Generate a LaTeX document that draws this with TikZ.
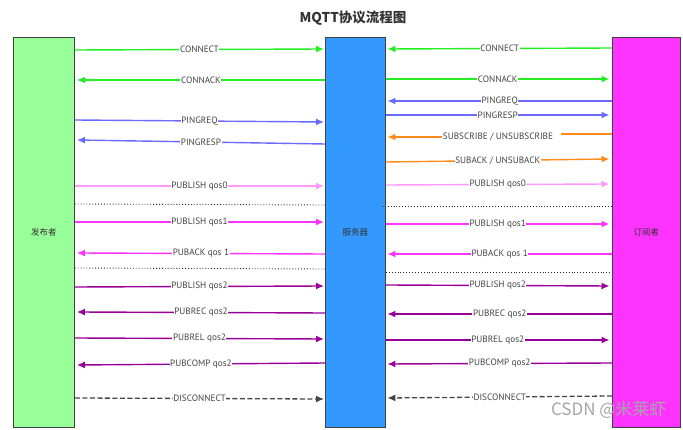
\documentclass[tikz,border=0pt]{standalone}
\usepackage{fontspec}
\setmainfont{PT Sans}
\newfontfamily\cjk{Noto Sans CJK SC}
\usetikzlibrary{arrows.meta,calc}
\definecolor{cgreen}{HTML}{22EE22}
\definecolor{cblue}{HTML}{6A6AFF}
\definecolor{corange}{HTML}{FF8C1A}
\definecolor{clpink}{HTML}{FF99FF}
\definecolor{cmag}{HTML}{FF33FF}
\definecolor{cpurp}{HTML}{990099}
\definecolor{cdash}{HTML}{444444}
\definecolor{boxgreen}{HTML}{99FF99}
\definecolor{boxblue}{HTML}{3399FF}
\definecolor{boxmag}{HTML}{FF33FF}
\definecolor{txt}{HTML}{444444}
\tikzset{
  actor/.style={draw=black!75, line width=0.9pt, anchor=north west, inner sep=0pt,
    font=\cjk\fontsize{8.5}{9}\selectfont, text=black!80},
  lbl/.style={fill=white, inner sep=0.6pt, text=txt, font=\fontsize{9.2}{10}\selectfont},
  msg/.style={line width=1.4pt, -{Latex[length=8pt,width=7pt]}},
  sep/.style={line width=0.9pt, dotted, black!85},
}
\newcommand\msgarrow[6]{\draw[msg,#1] (#2 |- 0,#3) -- node[lbl]{#6} (#4 |- 0,#5);}
\begin{document}
\begin{tikzpicture}[x=1pt,y=-1pt]
\useasboundingbox (0,0) rectangle (683,430);
\node[font=\cjk\bfseries\fontsize{13.5}{15}\selectfont, text=black!80] (title) at (353,18) {MQTT协议流程图};
\node[actor, fill=boxgreen, minimum width=61pt, minimum height=390pt] (pub) at (13,37) {发布者};
\node[actor, fill=boxblue, minimum width=60pt, minimum height=390pt] (srv) at (325,37) {服务器};
\node[actor, fill=boxmag, minimum width=68pt, minimum height=390pt] (sub) at (612,37) {订阅者};
% shifted anchors for arrow tips
\coordinate (pubR) at ($(pub.east)+(2,0)$);
\coordinate (srvL) at ($(srv.west)+(-1,0)$);
\coordinate (srvR) at ($(srv.east)+(1.5,0)$);
\coordinate (subL) at ($(sub.west)+(-2.5,0)$);
% left side
\msgarrow{cgreen}{pub.east}{50}{srvL}{49}{CONNECT}
\msgarrow{cgreen}{srv.west}{80}{pubR}{80}{CONNACK}
\msgarrow{cblue}{pub.east}{120}{srvL}{122}{PINGREQ}
\msgarrow{cblue}{srv.west}{144}{pubR}{140}{PINGRESP}
\msgarrow{clpink}{pub.east}{186}{srvL}{186}{PUBLISH qos0}
\draw[sep] (pub.east |- 0,204) -- (srv.west |- 0,205);
\msgarrow{cmag}{pub.east}{222}{srvL}{222}{PUBLISH qos1}
\msgarrow{cmag}{srv.west}{254}{pubR}{253}{PUBACK qos 1}
\draw[sep] (pub.east |- 0,268) -- (srv.west |- 0,269);
\msgarrow{cpurp}{pub.east}{287}{srvL}{286}{PUBLISH qos2}
\msgarrow{cpurp}{srv.west}{313}{pubR}{312}{PUBREC qos2}
\msgarrow{cpurp}{pub.east}{338}{srvL}{339}{PUBREL qos2}
\msgarrow{cpurp}{srv.west}{363}{pubR}{365}{PUBCOMP qos2}
\msgarrow{cdash,dashed,line width=1.3pt,dash pattern=on 5pt off 2.5pt}{pub.east}{398}{srvL}{399}{DISCONNECT}
% right side
\msgarrow{cgreen}{sub.west}{48}{srvR}{49}{CONNECT}
\msgarrow{cgreen}{srv.east}{79}{subL}{79}{CONNACK}
\msgarrow{cblue}{sub.west}{101}{srvR}{101}{PINGREQ}
\msgarrow{cblue}{srv.east}{115}{subL}{115}{PINGRESP}
\node[lbl] (subscr) at (498,137) {SUBSCRIBE / UNSUBSCRIBE};
\coordinate (subgap) at (561,134);
\draw[line width=1.4pt, corange] (sub.west |- subgap) -- (subgap);
\draw[msg,corange] (subscr.west) -- (srvR |- subscr.west);
\msgarrow{corange}{srv.east}{162}{subL}{159}{SUBACK / UNSUBACK}
\msgarrow{clpink}{srv.east}{185}{subL}{184}{PUBLISH qos0}
\draw[sep] ($(srv.east |- 0,206)+(-4,0)$) -- (sub.west |- 0,206);
\msgarrow{cmag}{srv.east}{224}{subL}{224}{PUBLISH qos1}
\msgarrow{cmag}{sub.west}{254}{srvR}{254}{PUBACK qos 1}
\draw[sep] (srv.east |- 0,272) -- (sub.west |- 0,272);
\msgarrow{cpurp}{srv.east}{285}{subL}{286}{PUBLISH qos2}
\msgarrow{cpurp}{sub.west}{314}{srvR}{314}{PUBREC qos2}
\msgarrow{cpurp}{srv.east}{340}{subL}{340}{PUBREL qos2}
\msgarrow{cpurp}{sub.west}{363}{srvR}{364}{PUBCOMP qos2}
\msgarrow{cdash,dashed,line width=1.3pt,dash pattern=on 5pt off 2.5pt}{sub.west}{396}{srvR}{398}{DISCONNECT}
% watermark
\node[text=black!35, font=\cjk\fontsize{17}{18}\selectfont, anchor=east] (wm) at (670,410) {CSDN @米莱虾};
\end{tikzpicture}
\end{document}
